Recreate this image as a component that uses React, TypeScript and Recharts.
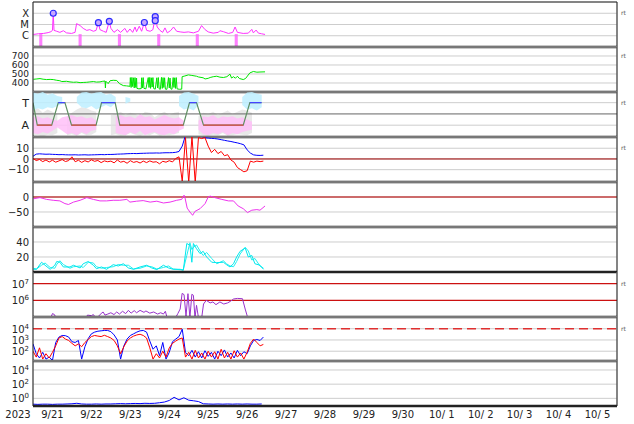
import React from 'react'
import {
  ComposedChart, Line, Area, Scatter,
  XAxis, YAxis, CartesianGrid, ReferenceLine, ReferenceArea,
} from 'recharts'

// time axis: days since 2023-09-21 00:00 UT
const dayTicks = [0, 1, 2, 3, 4, 5, 6, 7, 8, 9, 10, 11, 12, 13, 14, 15]
const dateLabels = ['9/21', '9/22', '9/23', '9/24', '9/25', '9/26', '9/27', '9/28', '9/29', '9/30', '10/ 1', '10/ 2', '10/ 3', '10/ 4', '10/ 5']
const yearLabel = '2023'
const grid2h = Array.from({ length: 72 }, (_, i) => i / 12)
const grid3h = Array.from({ length: 48 }, (_, i) => i / 8)

// panel 1: x-ray flux
const xrayTicks = [1e-6, 1e-5, 1e-4]
const xrayClasses = ['C', 'M', 'X']
const xrayT = [0.01, 0.14, 0.27, 0.39, 0.46, 0.5, 0.52, 0.54, 0.61, 0.69, 0.78, 0.86, 0.99, 1.08, 1.12, 1.21, 1.29, 1.38, 1.46, 1.55, 1.62, 1.68, 1.72, 1.81, 1.88, 1.96, 2.0, 2.08, 2.17, 2.25, 2.36, 2.42, 2.49, 2.56, 2.62, 2.66, 2.73, 2.79, 2.86, 2.92, 3.01, 3.08, 3.14, 3.19, 3.26, 3.33, 3.39, 3.45, 3.54, 3.61, 3.69, 3.78, 3.88, 3.99, 4.12, 4.25, 4.33, 4.42, 4.5, 4.63, 4.76, 4.8, 4.89, 5.02, 5.13, 5.19, 5.25, 5.4, 5.53, 5.62, 5.66, 5.73, 5.79, 5.87, 5.96]
const xrayV = [1.3e-6, 1.5e-6, 1.6e-6, 1.9e-6, 2.3e-6, 3e-6, 1e-4, 3e-6, 2.5e-6, 2e-6, 2.8e-6, 1.8e-6, 1.6e-6, 2e-6, 1.2e-5, 8e-6, 4.5e-6, 3e-6, 3.5e-6, 2.5e-6, 3e-6, 1.45e-5, 3.5e-6, 2.5e-6, 2e-6, 1.9e-5, 4.6e-6, 2e-6, 3.5e-6, 2e-6, 4.5e-6, 2e-6, 4e-6, 2e-6, 6e-6, 2.3e-6, 7e-6, 2.5e-6, 1.5e-5, 3e-6, 2.5e-6, 3.5e-6, 5e-5, 6e-6, 3e-6, 2e-6, 5e-6, 1.8e-6, 3e-6, 6e-6, 2.5e-6, 2.2e-6, 2e-6, 2.2e-6, 1.8e-6, 2.5e-6, 8e-6, 3.5e-6, 2.2e-6, 1.7e-6, 2e-6, 2.8e-6, 2.3e-6, 1.6e-6, 2e-6, 6e-6, 2e-6, 1.6e-6, 1.7e-6, 3.7e-6, 1.8e-6, 3.2e-6, 1.7e-6, 1.5e-6, 1.3e-6]
const flareT = [0.52, 1.68, 1.96, 2.86, 3.14, 3.14]
const flareV = [1e-4, 1.45e-5, 1.9e-5, 1.5e-5, 5e-5, 2.2e-5]
const eclipseStart = [0.16, 1.17, 2.18, 3.19, 4.18, 5.18]
const eclipseEnd = [0.24, 1.25, 2.26, 3.27, 4.26, 5.26]

// panel 2: solar wind speed
const swT = [0.01, 0.1, 0.18, 0.26, 0.35, 0.44, 0.52, 0.61, 0.69, 0.74, 0.86, 0.95, 1.04, 1.12, 1.21, 1.29, 1.38, 1.46, 1.55, 1.63, 1.72, 1.78, 1.85, 1.86, 1.87, 1.93, 1.98, 2.06, 2.15, 2.22, 2.32, 2.4, 2.49,
  2.5, 2.52, 2.54, 2.56, 2.58, 2.6, 2.62, 2.64, 2.66, 2.67, 2.72, 2.78, 2.79, 2.81, 2.83, 2.85, 2.9, 2.96, 2.98, 3.0, 3.02, 3.04, 3.06, 3.08, 3.1, 3.14, 3.18, 3.2, 3.22, 3.24, 3.27, 3.3, 3.32, 3.34, 3.36, 3.38, 3.4, 3.44, 3.48, 3.5, 3.52, 3.54, 3.57, 3.6, 3.62, 3.64, 3.66, 3.68, 3.7, 3.76, 3.82,
  3.83, 3.9, 3.99, 4.08, 4.2, 4.25, 4.37, 4.42, 4.5, 4.55, 4.63, 4.72, 4.8, 4.89, 4.98, 5.06, 5.1, 5.15, 5.2, 5.25, 5.3, 5.4, 5.46, 5.49, 5.57, 5.66, 5.75, 5.83, 5.96]
const swV = [441, 445, 449, 442, 438, 440, 438, 430, 425, 416, 419, 412, 408, 410, 404, 406, 408, 412, 416, 410, 412, 418, 422, 345, 420, 393, 425, 430, 428, 393, 371, 368, 363,
  460, 350, 462, 360, 458, 345, 460, 350, 455, 340, 335, 338, 458, 345, 460, 340, 335, 460, 350, 462, 340, 458, 355, 460, 338, 332, 458, 345, 460, 335, 330, 462, 340, 460, 350, 458, 332, 330, 460, 345, 455, 335, 330, 460, 350, 458, 340, 460, 335, 330, 332,
  470, 478, 490, 484, 475, 467, 458, 445, 452, 461, 470, 475, 465, 461, 470, 498, 455, 470, 453, 475, 450, 438, 450, 467, 512, 528, 520, 522, 524]

// panel 3: sector (T = toward, A = away)
const sectorT = [0, 0.11, 0.48, 0.65, 0.82, 0.99, 1.62, 1.76, 2.11, 2.23, 3.86, 4.02, 4.2, 4.38, 5.4, 5.57, 5.87]
const sectorV = [1, -1, -1, 1, 1, -1, -1, 1, 1, -1, -1, 1, 1, -1, -1, 1, 1]
const towardLo = [0.3, 0.5, 0.4, 0.6, 0.5, 0.7, 0.9, null, null, 1.0, 0.6, 0.5, 0.7, 0.4, 0.6, 0.8, 0.6, 1.0, null, 0.9, 1.1, null, null, null, null, null, null, null, null, null, 0.7, 0.4, 0.5, 0.3, 0.8, null, null, null, null, null, null, null, null, 0.8, 0.4, 0.5, 0.3, 0.6]
const towardHi = [1.9, 1.8, 1.95, 1.7, 1.85, 1.6, 1.5, null, null, 1.5, 1.9, 1.95, 1.8, 1.9, 1.95, 1.7, 1.8, 1.5, null, 1.5, 1.4, null, null, null, null, null, null, null, null, null, 1.6, 1.9, 1.95, 1.8, 1.6, null, null, null, null, null, null, null, null, 1.5, 1.9, 1.95, 1.8, 1.7]
const awayLo = [-1.7, -1.8, -1.6, -1.75, -1.5, -1.2, -1.5, -1.8, -1.7, -1.9, -1.6, -1.8, -1.5, -1.4, null, null, null, -1.7, -1.8, -1.9, -1.6, -1.8, -1.5, -1.9, -1.7, -1.6, -1.8, -1.9, -1.7, -1.8, -1.5, -1.3, null, null, -1.4, -1.8, -1.9, -1.7, -1.8, -1.6, -1.9, -1.7, -1.8, -1.6, -1.5, -1.4, null, null]
const awayHi = [-0.3, -0.2, -0.4, -0.3, -0.5, -0.6, -0.3, -0.2, -0.1, -0.3, -0.2, -0.4, -0.3, -0.6, null, null, null, -0.2, -0.1, -0.3, -0.2, -0.4, 0.0, -0.3, -0.2, -0.5, -0.3, -0.1, -0.3, -0.4, -0.3, -0.6, null, null, -0.6, -0.2, -0.3, -0.1, -0.4, -0.2, -0.3, -0.2, -0.4, -0.3, -0.5, -0.7, null, null]
const mixLo = [-1.95, -1.9, -2.0, -1.85, -1.9, -1.7, null, -1.9, -1.8, -1.95, -1.7, -1.9, -1.85, -1.6, null, null, -1.9, -1.8, -1.95, -1.9, -1.7, -1.85, -1.95, -1.8, -1.9, -1.7, -1.95, -1.85, -1.9, -1.8, -1.7, null, null, null, -1.8, -1.9, -1.95, -1.85, -1.9, -1.7, -1.95, -1.9, -1.8, -1.85, -1.9, -1.7, null, null]
const mixHi = [0.3, 0.5, 0.1, 0.4, 0.2, 0.0, null, -0.2, 0.1, 0.4, 0.6, 0.5, 0.3, 0.2, null, null, -0.1, 0.0, 0.2, -0.1, 0.1, 0.0, -0.2, 0.2, 0.1, -0.3, 0.0, 0.2, -0.1, 0.1, 0.2, null, null, null, -0.2, 0.1, 0.0, 0.2, -0.1, 0.1, 0.3, 0.0, 0.2, 0.4, 0.3, 0.1, null, null]

// panel 4: IMF Bt / Bz (nT), 2-hour steps
const btV = [2.5, 4.5, 4.8, 4.6, 4.4, 4.5, 4.3, 4.2, 4.0, 4.1, 3.9, 3.8,
  3.8, 3.9, 3.7, 3.8, 3.9, 3.7, 3.8, 3.9, 4.0, 4.1, 4.0, 4.2,
  4.2, 4.3, 4.5, 4.6, 4.7, 4.9, 5.0, 5.1, 5.0, 5.2, 5.3, 5.4,
  5.5, 5.5, 5.6, 5.5, 5.7, 5.8, 5.8, 5.9, 6.2, 7.0, 12, 22,
  22, 22, 21, 22, 21, 19.8, 19.5, 19.2, 19.0, 18.6, 18.0, 17.4,
  16.8, 16.3, 15.6, 15.0, 14.2, 13.2, 8.5, 5.5, 3.8, 3.4, 3.3, 3.5]
const bzV = [0.5, -1.5, -0.5, -2.5, -1.0, -2.8, -1.2, -3.0, -1.8, -0.6, -2.4, -1.5,
  2.0, -2.6, -1.2, -3.2, -1.6, -2.8, -0.8, -2.2, -1.4, -3.4, -1.8, -2.6,
  -2.0, -3.6, -1.0, -3.0, -2.2, -4.0, -1.6, -3.2, -2.4, -3.8, -2.0, -3.4,
  -1.8, -3.0, -2.6, -4.5, -2.2, -3.0, -1.6, -2.8, 0.5, 2, -21, 20,
  -22, 21, -22, 20, 19, 20, 12, 6, 9, 5, 7, 3,
  4, -1, -3, -8, -10, -12, -11, -2, -3, -2, -2.5, -2]

// panel 5: Dst (nT)
const dstT = [0.01, 0.18, 0.35, 0.52, 0.69, 0.82, 0.91, 1.04, 1.21, 1.38, 1.55, 1.72, 1.89, 2.06, 2.23, 2.41, 2.49, 2.66, 2.83, 3.01, 3.18, 3.35, 3.52, 3.69, 3.82, 3.88, 3.9, 3.96, 4.03, 4.1, 4.16, 4.29, 4.42, 4.5, 4.55, 4.67, 4.85, 5.02, 5.15, 5.27, 5.4, 5.51, 5.62, 5.75, 5.83, 5.96]
const dstV = [-6, -2, -8, -11, -13, -22, -25, -17, -11, -2, -8, -13, -13, -11, -11, -8, -17, -14, -12, -17, -14, -20, -17, -11, -8, 6, 0, -37, -50, -61, -48, -39, -22, 0, 3, -2, -8, -13, -13, -30, -39, -52, -44, -42, -44, -30]

// panel 6: two cyan traces
const kT = [0.01, 0.09, 0.22, 0.31, 0.44, 0.56, 0.61, 0.69, 0.78, 0.95, 1.04, 1.21, 1.29, 1.42, 1.55, 1.63, 1.76, 1.89, 2.06, 2.19, 2.32, 2.45, 2.58, 2.75, 2.92, 3.05, 3.18, 3.35, 3.48, 3.6, 3.78, 3.86, 3.95, 4.03, 4.08, 4.12, 4.2, 4.29, 4.37, 4.46, 4.59, 4.72, 4.89, 4.97, 5.06, 5.15, 5.23, 5.32, 5.45, 5.53, 5.62, 5.7, 5.83, 5.92]
const kA = [3.6, 3.6, 13, 9, 3.6, 9, 14, 13, 6.7, 6.7, 9, 5.4, 11, 14, 9, 4.4, 6.7, 3.6, 9.8, 8, 11, 5.4, 3.6, 6.7, 9, 5.4, 3.2, 9, 5.4, 3.6, 3.6, 2.2, 38, 35.6, 13, 38, 31, 24.5, 27.6, 20, 13, 12.5, 13, 9.8, 6.7, 11, 20, 27.6, 32, 20, 22, 11, 9, 3.6]
const kB = [5, 4, 9, 12, 6, 5, 10, 15, 10, 5, 7, 8, 6, 13, 12, 7, 5, 6, 7, 10, 9, 9, 4, 5, 8, 7, 4, 6, 8, 4, 3, 3, 22, 39, 30, 33, 36, 28, 22, 26, 18, 11, 15, 11, 8, 7, 14, 24, 33, 28, 16, 18, 8, 5]

// panel 7: electron flux
const elT = [0, 0.45, 0.5, 0.55, 0.6, 1.35, 1.4, 1.5, 1.55, 1.62, 1.75, 1.8, 1.85, 1.92, 2.0, 2.08, 2.15, 2.22, 2.3, 2.38, 2.45, 2.52, 2.6, 2.66, 2.75, 2.85, 2.9, 3.0, 3.1, 3.2, 3.28, 3.35, 3.4, 3.45, 3.65, 3.72, 3.78, 3.83, 3.88, 3.93, 3.98, 4.03, 4.08, 4.12, 4.16, 4.2, 4.25, 4.33, 4.38, 4.45, 4.55, 4.62, 4.7, 4.8, 4.9, 5.0, 5.08, 5.15, 5.25, 5.38, 5.45, 5.5, 5.55, 5.95]
const elV = [8e4, 8e4, 1.6e5, 1.4e5, 8e4, 8e4, 1.3e5, 1.2e5, 1.4e5, 8e4, 1.6e5, 2e5, 1.3e5, 1.5e5, 1.8e5, 1.4e5, 2e5, 1.5e5, 2.2e5, 1.6e5, 2.5e5, 1.7e5, 2.4e5, 1.8e5, 2.5e5, 1.9e5, 2.3e5, 1.7e5, 2e5, 1.5e5, 1.8e5, 1.5e5, 2.2e5, 8e4, 8e4, 1.6e5, 3e5, 2.6e6, 2.2e6, 1.1e5, 2.5e6, 9e4, 2.3e6, 2e6, 9e4, 5e5, 9e4, 8e4, 6e5, 1e6, 7e5, 8e5, 5.5e5, 8e5, 6e5, 7e5, 9e5, 1.2e6, 1.3e6, 1.25e6, 3e5, 1.2e5, 8e4, 8e4]

// panel 8: two flux channels, 2-hour steps
const p8Blue = [450, 60, 25, 80, 20, 30, 15, 600, 1800, 2500, 2400, 1800,
  700, 600, 900, 20, 250, 1300, 3500, 5000, 6000, 6500, 7000, 7000,
  5500, 2800, 1000, 20, 300, 1200, 2500, 3500, 5000, 6500, 7000, 5000,
  800, 150, 300, 40, 600, 20, 80, 700, 1200, 2000, 9000, 80,
  40, 120, 30, 90, 25, 110, 35, 80, 20, 100, 40, 130,
  30, 70, 25, 120, 40, 90, 60, 300, 900, 1100, 900, 1800]
const p8Red = [100, 30, 200, 20, 60, 25, 80, 300, 1500, 2000, 1200, 900,
  500, 300, 450, 250, 600, 1100, 2000, 2500, 2200, 2000, 2600, 2000,
  1500, 900, 300, 60, 250, 800, 1500, 2200, 2800, 3200, 2500, 1500,
  200, 20, 60, 25, 100, 30, 200, 500, 800, 1200, 1500, 30,
  80, 20, 120, 25, 70, 20, 100, 30, 90, 20, 150, 25,
  80, 20, 110, 30, 70, 20, 80, 500, 1200, 600, 300, 400]

// panel 9: 3-hour steps
const p9Blue = [0.15, 0.14, 0.15, 0.15, 0.14, 0.15, 0.15, 0.16, 0.17, 0.2, 0.16, 0.15,
  0.15, 0.16, 0.15, 0.16, 0.16, 0.17, 0.18, 0.17, 0.18, 0.19, 0.18, 0.2,
  0.19, 0.2, 0.24, 0.3, 0.5, 1.4, 0.6, 1.2, 0.55, 0.45, 0.35, 0.17,
  0.16, 0.15, 0.16, 0.15, 0.16, 0.15, 0.16, 0.15, 0.16, 0.15, 0.15, 0.16]

const zip = (t: number[], v: (number | null)[]) => t.map((x, i) => ({ t: x, v: v[i] }))
const band = (t: number[], lo: (number | null)[], hi: (number | null)[]) =>
  t.map((x, i) => ({ t: x, v: lo[i] == null || hi[i] == null ? null : [lo[i], hi[i]] }))

const W = 634
const Y_W = 33
const R_W = 17
const HALF_DAY = (W - Y_W - R_W) / 15 / 2 // date labels sit mid-day
const M = { top: 0, right: 0, bottom: 0, left: 0 }
const FONT = 'DejaVu Sans'
const GRID = '#cdcdcd'
const tickStyle = { fontSize: 10, fontFamily: FONT, fill: '#222' }
const minus = (v: number) => (v < 0 ? '\u2212' + Math.abs(v) : String(v))
const THIN = 0.01 // axis band height: keeps the axis drawn without eating plot space

const SupTick = (p: any) => {
  const e = Math.round(Math.log10(p.payload.value))
  return (
    <text x={p.x} y={p.y} dy={4} textAnchor="end" fontSize={10} fontFamily={FONT} fill="#222">
      10<tspan dy={-4} fontSize={7}>{e}</tspan>
    </text>
  )
}

const DateTick = (p: any) => {
  const i = Math.round(p.payload.value)
  if (i >= dateLabels.length) return <g />
  return (
    <g>
      <text x={p.x + HALF_DAY} y={p.y} dy={12} textAnchor="middle" fontSize={10} fontFamily={FONT} fill="#222">{dateLabels[i]}</text>
      {i === 0 ? <text x={p.x - 15} y={p.y} dy={12} textAnchor="middle" fontSize={10} fontFamily={FONT} fill="#222">{yearLabel}</text> : null}
    </g>
  )
}

const FlareDot = (p: any) => (
  <circle cx={p.cx} cy={p.cy} r={3} fill="#c8a8ff" stroke="#2a2aff" strokeWidth={1.2} />
)

function frame(o: { domain: number[]; log?: boolean; ticks: number[]; fmt?: (v: number) => string; sup?: boolean; rt?: number; top?: boolean; hgrid?: boolean; size?: number }) {
  const scale = o.log ? 'log' : 'linear'
  return [
    <CartesianGrid key="g" stroke={GRID} horizontal={o.hgrid !== false} />,
    <XAxis key="x" dataKey="t" type="number" domain={[0, 15]} ticks={dayTicks} interval={0} allowDataOverflow
      tick={false} tickLine={false} height={THIN} axisLine={{ stroke: '#222', strokeWidth: 2.5 }} />,
    o.top ? <XAxis key="xt" xAxisId="top" orientation="top" type="number" domain={[0, 15]} allowDataOverflow
      tick={false} tickLine={false} height={THIN} axisLine={{ stroke: '#222' }} /> : null,
    <YAxis key="y" type="number" scale={scale} domain={o.domain} allowDataOverflow ticks={o.ticks} interval={0}
      width={Y_W} tickLine={false} tickSize={0} tickMargin={4} axisLine={{ stroke: '#222' }}
      tick={o.sup ? SupTick : { ...tickStyle, fontSize: o.size ?? 10 }} tickFormatter={o.fmt} />,
    <YAxis key="r" yAxisId="r" orientation="right" type="number" scale={scale} domain={o.domain} allowDataOverflow
      ticks={o.rt !== undefined ? [o.rt] : undefined} interval={0} width={R_W} tickLine={false} tickSize={0} tickMargin={4}
      axisLine={{ stroke: '#222' }}
      tick={o.rt !== undefined ? { fontSize: 6, fontFamily: FONT, fill: '#555' } : false} tickFormatter={() => 'rt'} />,
  ]
}

export default function App() {
  const xray = zip(xrayT, xrayV)
  const flares = zip(flareT, flareV)
  const towardLine = zip(sectorT, sectorV.map((v) => (v === 1 ? 1 : null)))
  const awayLine = zip(sectorT, sectorV.map((v) => (v === -1 ? -1 : null)))

  return (
    <div style={{ position: 'absolute', left: 0, top: 2, width: W }}>
      <style>{'body{margin:0} .recharts-surface{overflow:visible}'}</style>

      <ComposedChart width={W} height={45} margin={M}>
        {frame({ domain: [1e-7, 1e-3], log: true, ticks: xrayTicks, fmt: (v) => xrayClasses[Math.round(Math.log10(v)) + 6], rt: 1e-4, top: true, size: 10 })}
        {eclipseStart.map((s, i) => (
          <ReferenceArea key={i} x1={s} x2={eclipseEnd[i]} y1={1e-7} y2={1.4e-6} fill="#ff55ff" fillOpacity={0.75} stroke="none" />
        ))}
        <Line data={xray} dataKey="v" stroke="#ff33ff" strokeWidth={1} dot={false} isAnimationActive={false} />
        <Scatter data={flares} dataKey="v" shape={FlareDot} isAnimationActive={false} />
      </ComposedChart>

      <ComposedChart width={W} height={45} margin={M}>
        {frame({ domain: [300, 800], ticks: [400, 500, 600, 700], rt: 700, size: 9 })}
        <Line data={zip(swT, swV)} dataKey="v" stroke="#00e600" strokeWidth={1} dot={false} isAnimationActive={false} />
      </ComposedChart>

      <ComposedChart width={W} height={45} margin={M}>
        {frame({ domain: [-2.05, 1.95], ticks: [-1, 1], fmt: (v) => (v > 0 ? 'T' : 'A'), rt: 1, size: 11 })}
        <Area data={band(grid3h, mixLo, mixHi)} dataKey="v" stroke="none" fill="#dedede" fillOpacity={0.7} isAnimationActive={false} />
        <Area data={band(grid3h, awayLo, awayHi)} dataKey="v" stroke="none" fill="#ffc0f8" fillOpacity={0.85} isAnimationActive={false} />
        <Area data={band(grid3h, towardLo, towardHi)} dataKey="v" stroke="none" fill="#bdeeff" fillOpacity={0.85} isAnimationActive={false} />
        <ReferenceLine y={0} stroke="#666" strokeWidth={1} />
        <Line data={zip(sectorT, sectorV)} dataKey="v" stroke="#5f8f62" strokeWidth={1.2} dot={false} isAnimationActive={false} />
        <Line data={towardLine} dataKey="v" stroke="#4444ff" strokeWidth={1.2} dot={false} isAnimationActive={false} />
        <Line data={awayLine} dataKey="v" stroke="#e04848" strokeWidth={1.2} dot={false} isAnimationActive={false} />
      </ComposedChart>

      <ComposedChart width={W} height={45} margin={M}>
        {frame({ domain: [-21.5, 20.5], ticks: [-10, 0, 10], fmt: minus, rt: 10 })}
        <ReferenceLine y={0} stroke="#a00000" strokeWidth={1} />
        <Line data={zip(grid2h, btV)} dataKey="v" stroke="#0000ff" strokeWidth={1} dot={false} isAnimationActive={false} />
        <Line data={zip(grid2h, bzV)} dataKey="v" stroke="#ff0000" strokeWidth={1} dot={false} isAnimationActive={false} />
      </ComposedChart>

      <ComposedChart width={W} height={45} margin={M}>
        {frame({ domain: [-100, 50], ticks: [-50, 0], fmt: minus })}
        <ReferenceLine y={0} stroke="#cc6b6b" strokeWidth={2} />
        <Line data={zip(dstT, dstV)} dataKey="v" stroke="#ee33ee" strokeWidth={1} dot={false} isAnimationActive={false} />
      </ComposedChart>

      <ComposedChart width={W} height={45} margin={M}>
        {frame({ domain: [0, 60], ticks: [20, 40] })}
        <Line data={zip(kT, kB)} dataKey="v" stroke="#22f0f0" strokeWidth={1} dot={false} isAnimationActive={false} />
        <Line data={zip(kT, kA)} dataKey="v" stroke="#00e8ee" strokeWidth={1} dot={false} isAnimationActive={false} />
      </ComposedChart>

      <ComposedChart width={W} height={45} margin={M}>
        {frame({ domain: [1e5, 5e7], log: true, ticks: [1e6, 1e7], sup: true, rt: 1e7, hgrid: false })}
        <ReferenceLine y={1e7} stroke="#cc1111" strokeWidth={1.2} />
        <ReferenceLine y={1e6} stroke="#cc1111" strokeWidth={1.2} />
        <Line data={zip(elT, elV)} dataKey="v" stroke="#9933cc" strokeWidth={1} dot={false} isAnimationActive={false} />
      </ComposedChart>

      <ComposedChart width={W} height={44} margin={M}>
        {frame({ domain: [13.5, 1.1e5], log: true, ticks: [1e2, 1e3, 1e4], sup: true, rt: 1e4 })}
        <ReferenceLine y={1e4} stroke="#e03030" strokeWidth={1.5} strokeDasharray="9 5" />
        <Line data={zip(grid2h, p8Blue)} dataKey="v" stroke="#0000ff" strokeWidth={1} dot={false} isAnimationActive={false} />
        <Line data={zip(grid2h, p8Red)} dataKey="v" stroke="#ff0000" strokeWidth={1} dot={false} isAnimationActive={false} />
      </ComposedChart>

      <ComposedChart width={W} height={45} margin={M}>
        {frame({ domain: [0.083, 1.86e5], log: true, ticks: [1, 1e2, 1e4], sup: true })}
        <Line data={zip(grid3h, p9Blue)} dataKey="v" stroke="#0000ff" strokeWidth={1} dot={false} isAnimationActive={false} />
      </ComposedChart>

      {/* date labels: an axis-only strip under the last panel */}
      <ComposedChart width={W} height={18} margin={M}>
        <XAxis dataKey="t" type="number" domain={[0, 15]} ticks={dayTicks} interval={0} allowDataOverflow
          tick={DateTick} tickLine={false} tickSize={0} tickMargin={0} height={17.99} axisLine={false} />
        <YAxis type="number" domain={[0, 1]} width={Y_W} tick={false} tickLine={false} axisLine={false} />
        <YAxis yAxisId="r" orientation="right" type="number" domain={[0, 1]} width={R_W} tick={false} tickLine={false} axisLine={false} />
      </ComposedChart>
    </div>
  )
}
